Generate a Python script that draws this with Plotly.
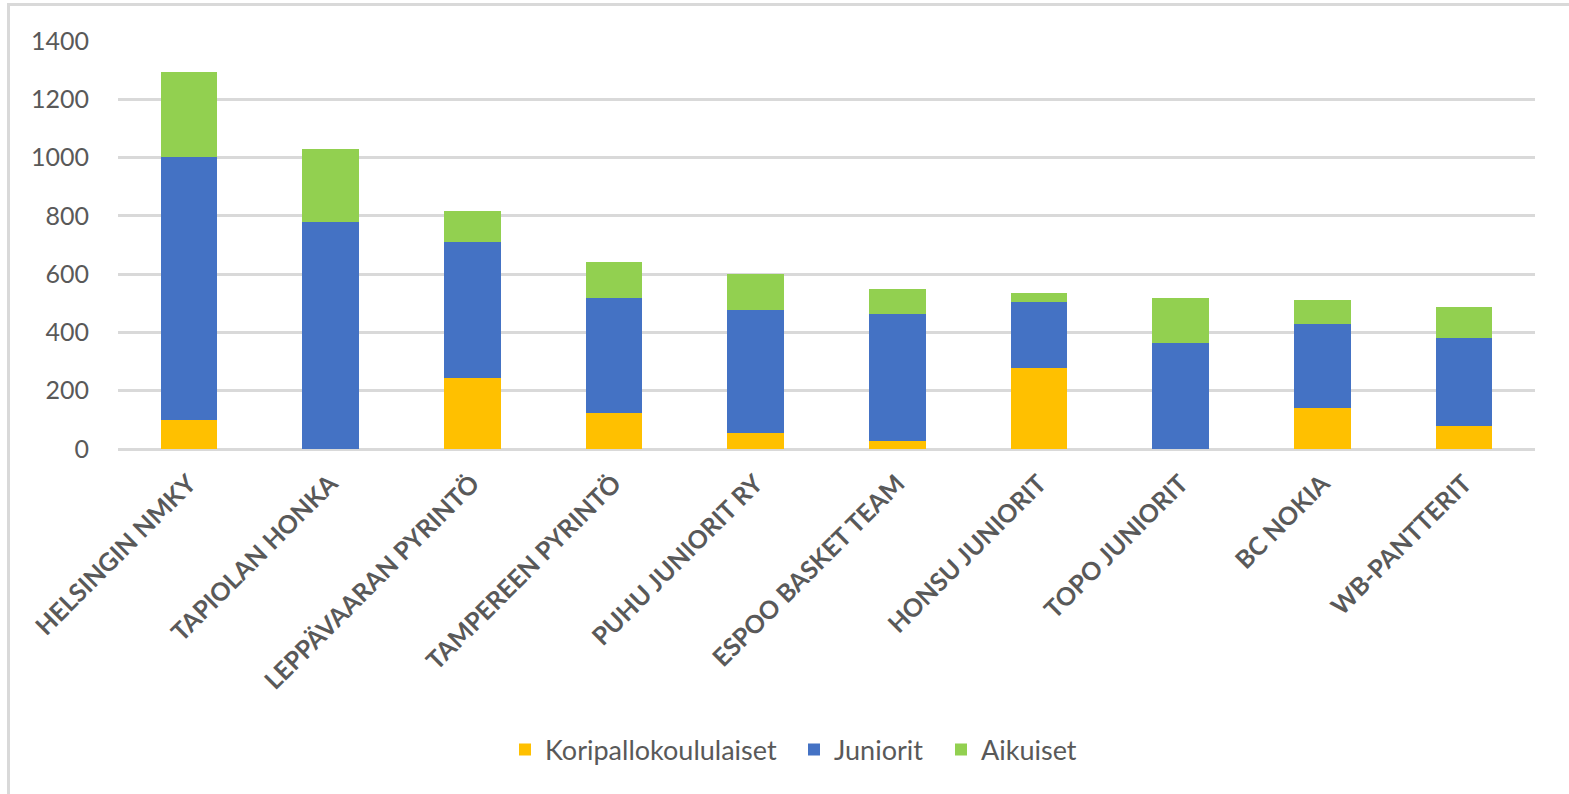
import plotly.graph_objects as go

categories = ["HELSINGIN NMKY", "TAPIOLAN HONKA", "LEPPÄVAARAN PYRINTÖ", "TAMPEREEN PYRINTÖ",
              "PUHU JUNIORIT RY", "ESPOO BASKET TEAM", "HONSU JUNIORIT", "TOPO JUNIORIT",
              "BC NOKIA", "WB-PANTTERIT"]
koripallokoululaiset = [100, 0, 243, 124, 55, 29, 278, 0, 142, 80]
juniorit = [903, 780, 468, 393, 421, 435, 226, 364, 286, 301]
aikuiset = [290, 250, 105, 123, 126, 85, 32, 153, 84, 105]
series_names = ["Koripallokoululaiset", "Juniorit", "Aikuiset"]
colors = ["#FFC000", "#4472C4", "#92D050"]
legend_widths = [244, 102, 100]
y_ticks = [0, 200, 400, 600, 800, 1000, 1200, 1400]

W, H = 1569, 794
L, R, T, B = 118, 34, 41, 345

fig = go.Figure()
for name, vals, col, lw in zip(series_names, [koripallokoululaiset, juniorit, aikuiset], colors, legend_widths):
    fig.add_trace(go.Bar(x=categories, y=vals, name=name, legendwidth=lw,
                         marker=dict(color=col, line=dict(width=0))))

pw = W - L - R
ph = H - T - B
def px_x(p):
    return (p - L) / pw
def px_y(p):
    return (H - B - p) / ph

fig.update_layout(
    barmode="stack",
    bargap=0.6,
    width=W, height=H,
    margin=dict(l=L, r=R, t=T, b=B, autoexpand=False),
    plot_bgcolor="white", paper_bgcolor="white",
    font=dict(family="Lato, Open Sans, sans-serif", color="#595959"),
    legend=dict(orientation="h", x=px_x(505), xanchor="left", y=px_y(750), yanchor="middle",
                font=dict(size=27, color="#595959"), traceorder="normal",
                itemwidth=30, tracegroupgap=0),
    xaxis=dict(tickangle=-45, tickfont=dict(size=25, color="#595959", family="Lato, sans-serif", weight="bold"),
               showgrid=False, showline=False, ticks="", automargin=False, ticklabelstandoff=14),
    yaxis=dict(range=[0, 1400], tickvals=y_ticks, tickfont=dict(size=25, color="#595959"),
               showgrid=True, gridcolor="#D9D9D9", gridwidth=2.5,
               zeroline=True, zerolinecolor="#D9D9D9", zerolinewidth=2.5,
               showline=False, ticks="", ticklabelstandoff=28, automargin=False),
    showlegend=True,
)

fig.add_shape(type="line", xref="paper", yref="paper",
              x0=px_x(8.5), x1=px_x(8.5), y0=px_y(4.5), y1=px_y(800),
              line=dict(color="#D9D9D9", width=3))
fig.add_shape(type="line", xref="paper", yref="paper",
              x0=px_x(7), x1=px_x(1580), y0=px_y(4.5), y1=px_y(4.5),
              line=dict(color="#D9D9D9", width=3))

fig.write_html("out.html", config={"displayModeBar": False},
               post_script="document.body.style.margin='0';document.body.style.overflow='hidden';")
